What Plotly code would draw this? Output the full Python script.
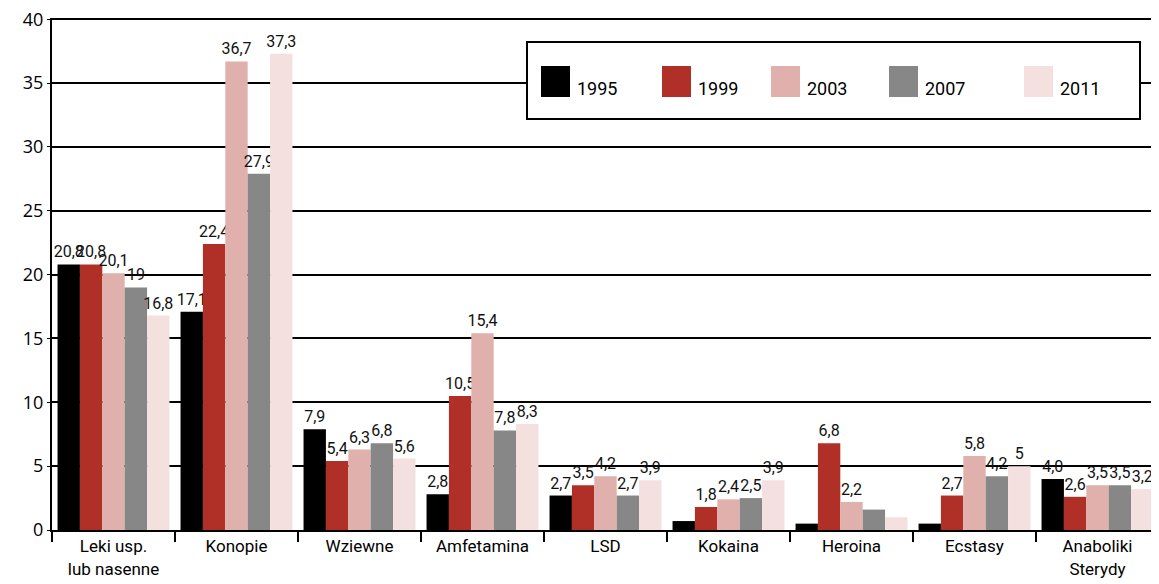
import plotly.graph_objects as go

categories = ["Leki usp.<br>lub nasenne", "Konopie", "Wziewne", "Amfetamina", "LSD",
              "Kokaina", "Heroina", "Ecstasy", "Anaboliki<br>Sterydy"]
years = ["1995", "1999", "2003", "2007", "2011"]
v1995 = [20.8, 17.1, 7.9, 2.8, 2.7, 0.7, 0.5, 0.5, 4.0]
v1999 = [20.8, 22.4, 5.4, 10.5, 3.5, 1.8, 6.8, 2.7, 2.6]
v2003 = [20.1, 36.7, 6.3, 15.4, 4.2, 2.4, 2.2, 5.8, 3.5]
v2007 = [19.0, 27.9, 6.8, 7.8, 2.7, 2.5, 1.6, 4.2, 3.5]
v2011 = [16.8, 37.3, 5.6, 8.3, 3.9, 3.9, 1.0, 5.0, 3.2]
t1995 = ["20,8", "17,1", "7,9", "2,8", "2,7", "", "", "", "4,0"]
t1999 = ["20,8", "22,4", "5,4", "10,5", "3,5", "1,8", "6,8", "2,7", "2,6"]
t2003 = ["20,1", "36,7", "6,3", "15,4", "4,2", "2,4", "2,2", "5,8", "3,5"]
t2007 = ["19", "27,9", "6,8", "7,8", "2,7", "2,5", "", "4,2", "3,5"]
t2011 = ["16,8", "37,3", "5,6", "8,3", "3,9", "3,9", "", "5", "3,2"]
colors = ["#000000", "#B03027", "#E0B0AC", "#878787", "#F3E0DF"]

values = [v1995, v1999, v2003, v2007, v2011]
texts = [t1995, t1999, t2003, t2007, t2011]

OFF = 8  # page body margin
W, H = 1159 - OFF, 584 - OFF
L, R, T, B = 52 - OFF, 0, 19 - OFF - 1, H - (530 - OFF)
narrow = "Roboto, sans-serif"

fig = go.Figure()
for y, vals, txt, c in zip(years, values, texts, colors):
    fig.add_trace(go.Bar(
        name=y, x=categories, y=vals, marker=dict(color=c, line=dict(width=0)),
        text=txt, textposition="outside", constraintext="none", cliponaxis=False,
        textfont=dict(family=narrow, size=16, color="#111"), showlegend=False,
    ))

YMAX = 40.1

def px(x):
    return (x - OFF - L) / (W - L - R)

def py(y):
    return (H - B - (y - OFF)) / (H - T - B)

shapes = [dict(type="rect", xref="paper", yref="paper", x0=px(527), x1=px(1140),
               y0=py(119), y1=py(42), line=dict(color="black", width=2), fillcolor="white",
               layer="above")]
annotations = []
sq_x = [541, 662, 771, 889, 1024]
for i, (y, c) in enumerate(zip(years, colors)):
    shapes.append(dict(type="rect", xref="paper", yref="paper", x0=px(sq_x[i]), x1=px(sq_x[i] + 29),
                       y0=py(97), y1=py(66), line=dict(width=0), fillcolor=c, layer="above"))
    annotations.append(dict(xref="paper", yref="paper", x=px(sq_x[i] + 34), y=py(101),
                            xanchor="left", yanchor="bottom", text=y, showarrow=False,
                            font=dict(family=narrow, size=18, color="black")))

fig.update_layout(
    width=W, height=H, margin=dict(l=L, r=R, t=T, b=B),
    plot_bgcolor="white", paper_bgcolor="white",
    barmode="group", bargap=0.09, bargroupgap=0,
    shapes=shapes, annotations=annotations,
    xaxis=dict(range=[-0.5, 8.5], tickson="boundaries", ticks="outside", ticklen=10,
               tickcolor="black", tickwidth=2, showline=True, linecolor="black", linewidth=2,
               tickfont=dict(family=narrow, size=17, color="black"), showgrid=False),
    yaxis=dict(range=[0, YMAX], tickvals=[0, 5, 10, 15, 20, 25, 30, 35, 40],
               showgrid=True, gridcolor="black", gridwidth=2, ticklabeloverflow="allow",
               showline=True, linecolor="black", linewidth=2, ticks="outside", ticklen=3,
               tickcolor="black", zeroline=False,
               tickfont=dict(family="Open Sans, sans-serif", size=18, color="black")),
)
fig.write_html("out.html")
